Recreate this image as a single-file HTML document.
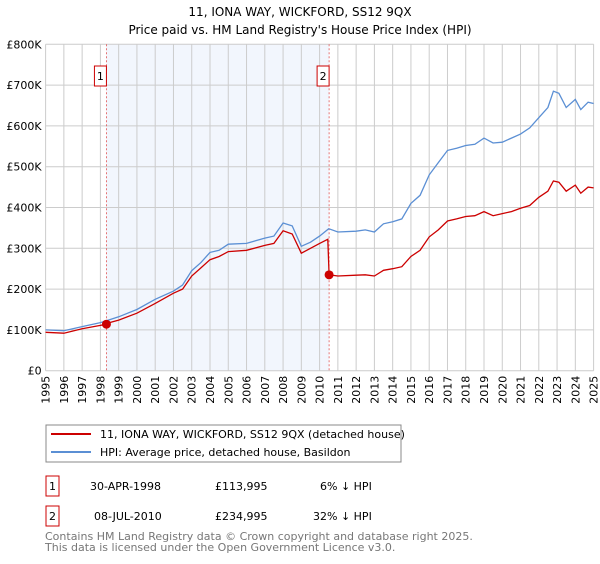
<!DOCTYPE html>
<html><head><meta charset="utf-8"><style>
body{margin:0;background:#fff;font-family:"DejaVu Sans","Liberation Sans",sans-serif;}
svg text{font-family:"DejaVu Sans","Liberation Sans",sans-serif;}
</style></head><body>
<svg id="chart" width="600" height="560" xmlns="http://www.w3.org/2000/svg">
<text x="300" y="16" font-size="12" text-anchor="middle">11, IONA WAY, WICKFORD, SS12 9QX</text>
<text x="300" y="34" font-size="12" text-anchor="middle">Price paid vs. HM Land Registry's House Price Index (HPI)</text>
<g id="plot"></g>
<g>
<rect x="46" y="425" width="355" height="37" fill="#fff" stroke="#888"/>
<line x1="51" y1="434" x2="91" y2="434" stroke="#cc0000" stroke-width="2"/>
<text x="100" y="438" font-size="11">11, IONA WAY, WICKFORD, SS12 9QX (detached house)</text>
<line x1="51" y1="452" x2="91" y2="452" stroke="#5b8fd4" stroke-width="2"/>
<text x="100" y="456" font-size="11">HPI: Average price, detached house, Basildon</text>
</g>
<g font-size="11">
<rect x="46" y="476" width="13" height="20" fill="none" stroke="#cc0000"/>
<text x="52.5" y="490" text-anchor="middle">1</text>
<text x="90" y="490">30-APR-1998</text>
<text x="215" y="490">£113,995</text>
<text x="320" y="490">6% ↓ HPI</text>
<rect x="46" y="506" width="13" height="20" fill="none" stroke="#cc0000"/>
<text x="52.5" y="520" text-anchor="middle">2</text>
<text x="94" y="520">08-JUL-2010</text>
<text x="215" y="520">£234,995</text>
<text x="313" y="520">32% ↓ HPI</text>
</g>
<text x="45" y="540" font-size="11" fill="#777">Contains HM Land Registry data © Crown copyright and database right 2025.</text>
<text x="45" y="551" font-size="11" fill="#777">This data is licensed under the Open Government Licence v3.0.</text>
</svg>
<script>
const hpiDates=[1995,1996,1997,1998,1998.5,1999,2000,2001,2002,2002.5,2003,2003.5,2004,2004.5,2005,2006,2007,2007.5,2008,2008.5,2009,2009.5,2010,2010.5,2011,2012,2012.5,2013,2013.5,2014,2014.5,2015,2015.5,2016,2016.5,2017,2017.5,2018,2018.5,2019,2019.5,2020,2020.5,2021,2021.5,2022,2022.5,2022.8,2023.1,2023.5,2024,2024.3,2024.7,2025];
const hpiValues=[100,98,108,118,125,132,150,175,195,210,245,265,290,295,310,312,325,330,362,355,305,315,330,348,340,342,345,340,360,365,372,410,430,480,510,540,545,552,555,570,558,560,570,580,595,620,645,685,680,645,665,640,658,655];
const propDates=[1995,1996,1997,1998,1998.33,1998.5,1999,2000,2001,2002,2002.5,2003,2003.5,2004,2004.5,2005,2006,2007,2007.5,2008,2008.5,2009,2009.5,2010,2010.45,2010.52,2011,2012,2012.5,2013,2013.5,2014,2014.5,2015,2015.5,2016,2016.5,2017,2017.5,2018,2018.5,2019,2019.5,2020,2020.5,2021,2021.5,2022,2022.5,2022.8,2023.1,2023.5,2024,2024.3,2024.7,2025];
const propValues=[94,92,103,111,114,118,124,141,165,190,200,232,252,272,280,292,295,307,312,343,335,288,300,312,322,235,232,234,235,232,246,250,255,280,295,328,345,367,372,378,380,390,380,385,390,398,405,425,440,465,462,440,455,435,450,448];
const saleDates=[1998.33,2010.52];
const saleValues=[113.995,234.995];
const saleLabels=["1","2"];
const yTicks=[0,100,200,300,400,500,600,700,800];
const yTickLabels=["£0","£100K","£200K","£300K","£400K","£500K","£600K","£700K","£800K"];
const xYears=[1995,1996,1997,1998,1999,2000,2001,2002,2003,2004,2005,2006,2007,2008,2009,2010,2011,2012,2013,2014,2015,2016,2017,2018,2019,2020,2021,2022,2023,2024,2025];

const X0=45.6,X1=593.6,Y0=370.7,Y1=44.3;
const xs=d=>X0+(d-1995)/30*(X1-X0);
const ys=v=>Y0-v/800*(Y0-Y1);
const NS="http://www.w3.org/2000/svg";
const g=document.getElementById('plot');
function mk(t,a){const e=document.createElementNS(NS,t);for(const k in a)e.setAttribute(k,a[k]);g.appendChild(e);return e;}
let sh=mk('rect',{x:xs(saleDates[0]),y:Y1,width:xs(saleDates[1])-xs(saleDates[0]),height:Y0-Y1,fill:'#f2f6fd'});


xYears.forEach(yr=>{
 const l=mk('line',{x1:xs(yr),x2:xs(yr),y1:Y1,y2:Y0,stroke:'#cccccc','stroke-width':1});
 
 
 const t=mk('text',{x:0,y:0,'font-size':11,'text-anchor':'end',transform:`translate(${xs(yr)+4},${Y0+5}) rotate(-90)`});
 t.textContent=yr;
 
 
});
yTicks.forEach((v,i)=>{
 const l=mk('line',{x1:X0,x2:X1,y1:ys(v),y2:ys(v),stroke:'#cccccc','stroke-width':1});
 
 
 const t=mk('text',{x:X0-4,y:ys(v)+4,'font-size':11,'text-anchor':'end'});
 t.textContent=yTickLabels[i];
 
 
});
saleDates.forEach((d,i)=>{
 const l=mk('line',{x1:xs(d),x2:xs(d),y1:Y1,y2:Y0,stroke:'#e05555','stroke-width':0.8,'stroke-dasharray':'2,2'});
 
 
});
function path(ds,vs,col,name){
 const p=mk('path',{d:ds.map((d,i)=>(i?'L':'M')+xs(d).toFixed(1)+','+ys(vs[i]).toFixed(1)).join(''),fill:'none',stroke:col,'stroke-width':1.3});
 
 
}
path(hpiDates,hpiValues,'#5b8fd4','hpi-line');
path(propDates,propValues,'#cc0000','property-price-line');
saleDates.forEach((d,i)=>{
 const m=mk('circle',{cx:xs(d),cy:ys(saleValues[i]),r:4.5,fill:'#cc0000'});
 
 
 const b=mk('rect',{x:xs(d)-12,y:66,width:12,height:20,fill:'#fff',stroke:'#cc0000'});
 
 
 const t=mk('text',{x:xs(d)-6,y:80,'font-size':11,'text-anchor':'middle'});
 t.textContent=saleLabels[i];
 
 
});
</script>
</body></html>
